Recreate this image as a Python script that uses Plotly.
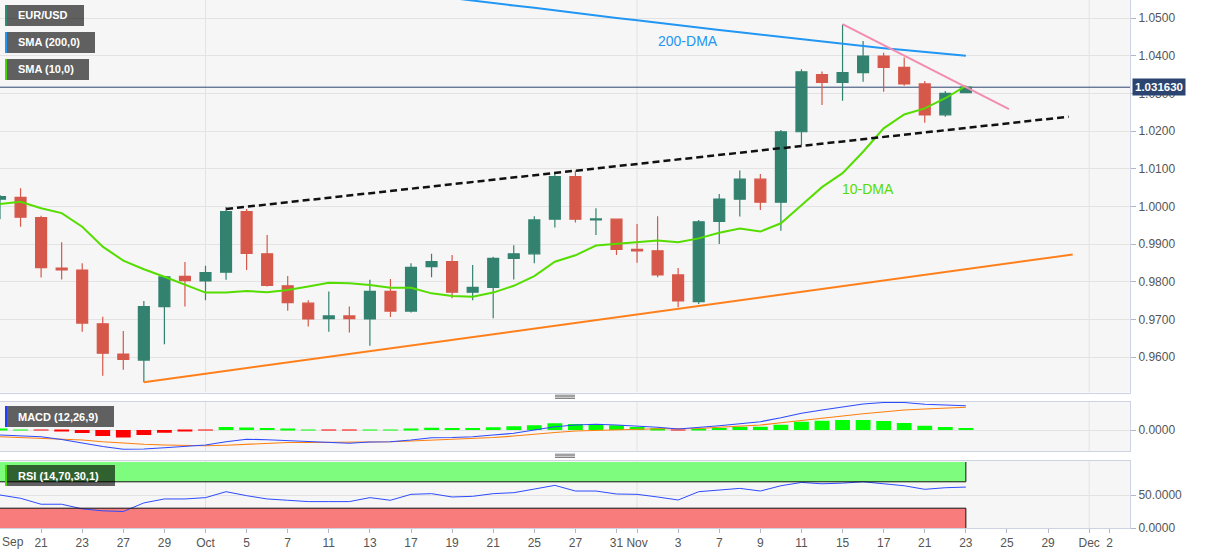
import plotly.graph_objects as go

# ---------------- data ----------------
dates = ["2022-09-19", "2022-09-20", "2022-09-21", "2022-09-22", "2022-09-23",
         "2022-09-26", "2022-09-27", "2022-09-28", "2022-09-29", "2022-09-30",
         "2022-10-03", "2022-10-04", "2022-10-05", "2022-10-06", "2022-10-07",
         "2022-10-10", "2022-10-11", "2022-10-12", "2022-10-13", "2022-10-14",
         "2022-10-17", "2022-10-18", "2022-10-19", "2022-10-20", "2022-10-21",
         "2022-10-24", "2022-10-25", "2022-10-26", "2022-10-27", "2022-10-28",
         "2022-10-31", "2022-11-01", "2022-11-02", "2022-11-03", "2022-11-04",
         "2022-11-07", "2022-11-08", "2022-11-09", "2022-11-10", "2022-11-11",
         "2022-11-14", "2022-11-15", "2022-11-16", "2022-11-17", "2022-11-18",
         "2022-11-21", "2022-11-22", "2022-11-23"]

opens = [1.0019, 1.0024, 0.9970, 0.9836, 0.9831, 0.9688, 0.9608, 0.9592, 0.9734, 0.9814,
         0.9802, 0.9825, 0.9986, 0.9874, 0.9789, 0.9743, 0.9702, 0.9709, 0.9701, 0.9774,
         0.9722, 0.9840, 0.9853, 0.9772, 0.9785, 0.9862, 0.9874, 0.9966, 1.0079, 0.9964,
         0.9966, 0.9886, 0.9882, 0.9818, 0.9747, 0.9960, 1.0019, 1.0072, 1.0011, 1.0198,
         1.0350, 1.0329, 1.0355, 1.0399, 1.0369, 1.0325, 1.0243, 1.0302]
highs = [1.0030, 1.0048, 0.9975, 0.9905, 0.9849, 0.9707, 0.9669, 0.9749, 0.9815, 0.9852,
         0.9842, 0.9998, 0.9993, 0.9924, 0.9815, 0.9751, 0.9774, 0.9734, 0.9805, 0.9807,
         0.9849, 0.9874, 0.9871, 0.9844, 0.9866, 0.9897, 0.9974, 1.0089, 1.0095, 0.9995,
         0.9966, 0.9953, 0.9974, 0.9836, 0.9964, 1.0033, 1.0095, 1.0086, 1.0203, 1.0364,
         1.0358, 1.0483, 1.0439, 1.0408, 1.0395, 1.0333, 1.0306, 1.0320]
lows = [0.9966, 0.9946, 0.9811, 0.9806, 0.9667, 0.9550, 0.9566, 0.9533, 0.9634, 0.9734,
        0.9751, 0.9805, 0.9831, 0.9787, 0.9723, 0.9681, 0.9667, 0.9665, 0.9630, 0.9706,
        0.9718, 0.9812, 0.9756, 0.9751, 0.9703, 0.9806, 0.9849, 0.9944, 0.9957, 0.9924,
        0.9871, 0.9850, 0.9812, 0.9732, 0.9741, 0.9900, 0.9973, 0.9990, 0.9935, 1.0163,
        1.0269, 1.0280, 1.0331, 1.0304, 1.0320, 1.0222, 1.0238, 1.0300]
closes = [1.0026, 0.9971, 0.9837, 0.9831, 0.9690, 0.9610, 0.9594, 0.9734, 0.9813, 0.9803,
          0.9824, 0.9986, 0.9875, 0.9790, 0.9744, 0.9701, 0.9709, 0.9702, 0.9774, 0.9722,
          0.9838, 0.9853, 0.9772, 0.9785, 0.9862, 0.9874, 0.9964, 1.0079, 0.9966, 0.99665,
          0.9886, 0.9882, 0.9818, 0.9749, 0.9959, 1.0019, 1.0072, 1.0011, 1.0198, 1.0357,
          1.0329, 1.0355, 1.0399, 1.0369, 1.0325, 1.0243, 1.0300, 1.03163]

sma10 = [1.0006, 1.0012, 0.9995, 0.9982, 0.9946, 0.9893, 0.9856, 0.9833, 0.9813, 0.9791,
         0.9771, 0.9771, 0.9775, 0.9772, 0.9778, 0.9787, 0.9797, 0.9796, 0.9791, 0.9784,
         0.9784, 0.9769, 0.9762, 0.9760, 0.9771, 0.9789, 0.9815, 0.9853, 0.9870, 0.9896,
         0.9900, 0.9905, 0.9909, 0.9905, 0.9915, 0.9930, 0.9941, 0.9933, 0.9955, 1.0003,
         1.0051, 1.0088, 1.0145, 1.0207, 1.0244, 1.0260, 1.0287, 1.0320]

# 200-day SMA: only visible from late October (earlier values are above the chart)
sma200 = [None] * 22 + [1.0553, 1.0546, 1.0540, 1.0533, 1.0527, 1.0520, 1.0514, 1.0507,
                        1.0500, 1.0494, 1.0487, 1.0481, 1.0475, 1.0468, 1.0462, 1.0456,
                        1.0449, 1.0443, 1.0437, 1.0431, 1.0426, 1.0420, 1.0415, 1.0410,
                        1.0405, 1.0400]

macd_line = [-0.0020, -0.0023, -0.0027, -0.0038, -0.0053, -0.0066, -0.0077, -0.0076, -0.0071, -0.0066,
             -0.0060, -0.0047, -0.0037, -0.0039, -0.0043, -0.0046, -0.0049, -0.0053, -0.0048, -0.0047,
             -0.0040, -0.0031, -0.0030, -0.0027, -0.0020, -0.0013, 0.0000, 0.0013, 0.0020, 0.0023,
             0.0020, 0.0017, 0.0011, 0.0004, 0.0009, 0.0017, 0.0025, 0.0033, 0.0049, 0.0067,
             0.0080, 0.0093, 0.0104, 0.0110, 0.0110, 0.0103, 0.0100, 0.0097]
macd_signal = [-0.0027, -0.0030, -0.0034, -0.0037, -0.0040, -0.0047, -0.0053, -0.0057, -0.0060, -0.0062,
               -0.0063, -0.0061, -0.0057, -0.0054, -0.0050, -0.0050, -0.0050, -0.0050, -0.0049, -0.0047,
               -0.0044, -0.0041, -0.0037, -0.0034, -0.0030, -0.0024, -0.0016, -0.0010, -0.0004, -0.0001,
               0.0002, 0.0005, 0.0005, 0.0005, 0.0006, 0.0011, 0.0015, 0.0020, 0.0029, 0.0037,
               0.0047, 0.0056, 0.0065, 0.0073, 0.0080, 0.0084, 0.0088, 0.0091]
macd_hist = [0.0004, 0.0002, -0.0001, -0.0005, -0.0012, -0.0024, -0.0030, -0.0020, -0.0011, -0.0004,
             -0.0001, 0.0012, 0.0010, 0.0008, 0.0005, 0.0002, -0.0001, -0.0001, 0.0001, 0.0002,
             0.0005, 0.0009, 0.0008, 0.0008, 0.0011, 0.0015, 0.0019, 0.0027, 0.0024, 0.0024,
             0.0019, 0.0012, 0.0007, -0.0002, 0.0004, 0.0008, 0.0013, 0.0013, 0.0021, 0.0033,
             0.0037, 0.0040, 0.0040, 0.0036, 0.0028, 0.0017, 0.0012, 0.0008]

rsi = [50, 45, 36, 36, 29, 26, 25, 38, 44, 44,
       46, 55, 49, 44, 42, 40, 40, 40, 46, 42,
       51, 52, 47, 48, 52, 53.5, 59, 64.6, 56, 56,
       51.5, 51, 47, 42.4, 55, 58, 60, 56, 64, 69,
       67, 68, 70, 67, 64, 58.6, 61, 62]

# x-axis labels: trading-day index -> label
tick_idx = [2, 4, 6, 8, 10, 12, 14, 16, 18, 20, 22, 24, 26, 28, 30, 31, 33, 35, 37, 39,
            41, 43, 45, 47, 49, 51, 53, 54]
tick_text = ["21", "23", "27", "29", "Oct", "5", "7", "11", "13", "17", "19", "21", "25", "27",
             "31", "Nov", "3", "7", "9", "11", "15", "17", "21", "23", "25", "29", "Dec", "2"]
first_label = "Sep"
month_start_idx = [10, 31, 53]

# analyst trend lines (trading-day index, price)
channel_x = [11, 52]
channel_y = [0.9993, 1.0238]
support_x = [7, 52.2]
support_y = [0.9533, 0.9872]
resist_x = [41, 49.1]
resist_y = [1.0484, 1.0258]

rsi_upper = 70
rsi_lower = 30

# ---------------- geometry ----------------
W, H = 1207, 555
ML, MR, MT, MB = 0, 77, 0, 27
PW, PH = W - ML - MR, H - MT - MB


def pxx(x):
    return (x - ML) / PW


def pxy(y):
    return 1 - (y - MT) / PH


FONT = "Arial, 'Liberation Sans', sans-serif"
GRID = "#e3e3e3"
BORDER = "#cdd3e3"
TICKC = "#555555"
x_idx = list(range(len(dates)))
X_RANGE = [0, PW / 20.55]

fig = go.Figure()

# candles
fig.add_trace(go.Candlestick(
    x=x_idx, open=opens, high=highs, low=lows, close=closes,
    increasing=dict(fillcolor="#338270", line=dict(color="#338270", width=1.2)),
    decreasing=dict(fillcolor="#d6584a", line=dict(color="#d6584a", width=1.2)),
    whiskerwidth=0, xaxis="x", yaxis="y", showlegend=False, hoverinfo="skip"))

# moving averages
fig.add_trace(go.Scatter(x=x_idx, y=sma200, mode="lines", line=dict(color="#2196f3", width=2),
                         xaxis="x", yaxis="y", showlegend=False, hoverinfo="skip"))
fig.add_trace(go.Scatter(x=x_idx, y=sma10, mode="lines", line=dict(color="#55dd00", width=2),
                         xaxis="x", yaxis="y", showlegend=False, hoverinfo="skip"))

# trend lines
fig.add_trace(go.Scatter(x=channel_x, y=channel_y, mode="lines",
                         line=dict(color="#111111", width=2.5, dash="7px,4px"),
                         xaxis="x", yaxis="y", showlegend=False, hoverinfo="skip"))
fig.add_trace(go.Scatter(x=support_x, y=support_y, mode="lines",
                         line=dict(color="#ff7f1a", width=2),
                         xaxis="x", yaxis="y", showlegend=False, hoverinfo="skip"))
fig.add_trace(go.Scatter(x=resist_x, y=resist_y, mode="lines",
                         line=dict(color="#f28cb1", width=2),
                         xaxis="x", yaxis="y", showlegend=False, hoverinfo="skip"))

# MACD
fig.add_trace(go.Bar(x=x_idx, y=macd_hist, width=0.72,
                     marker=dict(color=["#00ff00" if v >= 0 else "#ff0000" for v in macd_hist],
                                 line=dict(width=0)),
                     xaxis="x2", yaxis="y2", showlegend=False, hoverinfo="skip"))
fig.add_trace(go.Scatter(x=x_idx, y=macd_signal, mode="lines", line=dict(color="#ff7f0e", width=1.2),
                         xaxis="x2", yaxis="y2", showlegend=False, hoverinfo="skip"))
fig.add_trace(go.Scatter(x=x_idx, y=macd_line, mode="lines", line=dict(color="#2e4bff", width=1.2),
                         xaxis="x2", yaxis="y2", showlegend=False, hoverinfo="skip"))

# RSI
fig.add_trace(go.Scatter(x=x_idx, y=rsi, mode="lines", line=dict(color="#2e4bff", width=1),
                         xaxis="x3", yaxis="y3", showlegend=False, hoverinfo="skip"))

shapes = []
# month separators in every panel
for xr, yr in (("x", "y"), ("x2", "y2"), ("x3", "y3")):
    for m in month_start_idx:
        shapes.append(dict(type="line", xref=xr, yref=yr + " domain", x0=m, x1=m, y0=0, y1=1,
                           line=dict(color=GRID, width=1), layer="below"))

# current price line
last = closes[-1]
shapes.append(dict(type="line", xref="x domain", yref="y", x0=0, x1=1, y0=last, y1=last,
                   line=dict(color="#2b4470", width=1), layer="below"))

# RSI bands
last_i = x_idx[-1]
shapes.append(dict(type="rect", xref="x3", yref="y3", x0=-1, x1=last_i, y0=rsi_upper, y1=100,
                   fillcolor="#7dfc7d", line=dict(width=0), layer="below"))
shapes.append(dict(type="rect", xref="x3", yref="y3", x0=-1, x1=last_i, y0=0, y1=rsi_lower,
                   fillcolor="#f87c7c", line=dict(width=0), layer="below"))
for (a, b, c, d) in ((-1, last_i, rsi_upper, rsi_upper), (last_i, last_i, rsi_upper, 100),
                     (-1, last_i, rsi_lower, rsi_lower), (last_i, last_i, 0, rsi_lower)):
    shapes.append(dict(type="line", xref="x3", yref="y3", x0=a, x1=b, y0=c, y1=d,
                       line=dict(color="#111111", width=1)))

# panel resize handles
for yy in (395.2, 454.2):
    for k in range(3):
        shapes.append(dict(type="line", xref="paper", yref="paper", x0=pxx(555), x1=pxx(575),
                           y0=pxy(yy + 1.6 * k), y1=pxy(yy + 1.6 * k),
                           line=dict(color="#777777", width=1)))

annotations = []
# indicator label boxes
boxes = [("EUR/USD", 5, 84, 5, 26, "#2e8b74"),
         ("SMA (200,0)", 5, 95, 32, 53, "#2196f3"),
         ("SMA (10,0)", 5, 89, 59, 80, "#4cd600"),
         ("MACD (12,26,9)", 5, 114, 406, 427, "#1f3fff"),
         ("RSI (14,70,30,1)", 5, 115, 465, 486, "#4cd600")]
for text, x0, x1, y0, y1, sc in boxes:
    shapes.append(dict(type="rect", xref="paper", yref="paper", x0=pxx(x0), x1=pxx(x1),
                       y0=pxy(y1), y1=pxy(y0), fillcolor="rgba(0,0,0,0.61)", line=dict(width=0)))
    shapes.append(dict(type="rect", xref="paper", yref="paper", x0=pxx(x0), x1=pxx(x0 + 2),
                       y0=pxy(y1), y1=pxy(y0), fillcolor=sc, line=dict(width=0)))
    annotations.append(dict(text="<b>" + text + "</b>", xref="paper", yref="paper",
                            x=pxx(16), y=pxy((y0 + y1) / 2), xanchor="left", yanchor="middle",
                            showarrow=False, font=dict(family=FONT, size=11, color="white")))

# line labels
annotations.append(dict(text="200-DMA", xref="x", yref="y", x=33.5, y=1.0439, showarrow=False,
                        font=dict(family=FONT, size=14, color="#2196f3")))
annotations.append(dict(text="10-DMA", xref="x", yref="y", x=42.25, y=1.0046, showarrow=False,
                        font=dict(family=FONT, size=14, color="#55dd00")))

# current price tag
annotations.append(dict(text="<b>%.6f</b>" % last, xref="paper", yref="y", x=pxx(1132), y=last,
                        xanchor="left", yanchor="middle", showarrow=False, bgcolor="#2b4470",
                        borderpad=2, font=dict(family=FONT, size=11.5, color="white")))

# first x label (kept inside the page)
annotations.append(dict(text=first_label, xref="paper", yref="paper", x=0, y=pxy(542),
                        xanchor="left", yanchor="middle", showarrow=False,
                        font=dict(family=FONT, size=12, color=TICKC)))

xcommon = dict(range=X_RANGE, showgrid=False, zeroline=False, showline=True, linecolor=BORDER,
               mirror=True, domain=[0, 1], fixedrange=True)
ycommon = dict(side="right", showline=True, linecolor=BORDER, mirror=True, zeroline=False,
               gridcolor=GRID, ticks="outside", ticklen=5, tickcolor="#b0b7c9",
               tickfont=dict(family=FONT, size=12, color=TICKC), tickformat=".4f")

fig.update_layout(
    width=W, height=H,
    margin=dict(l=ML, r=MR, t=MT, b=MB),
    paper_bgcolor="white", plot_bgcolor="#f6f6f6",
    showlegend=False, boxgap=0.24,
    font=dict(family=FONT),
    xaxis=dict(**xcommon, anchor="y", showticklabels=False, ticks="",
               rangeslider=dict(visible=False)),
    xaxis2=dict(**xcommon, anchor="y2", showticklabels=False, ticks=""),
    xaxis3=dict(**xcommon, anchor="y3", tickmode="array", tickvals=tick_idx, ticktext=tick_text,
                ticks="outside", ticklen=4, tickcolor="#b0b7c9",
                tickfont=dict(family=FONT, size=12, color=TICKC)),
    yaxis=dict(**ycommon, anchor="x", domain=[pxy(392.5), 1], range=[0.95058, 1.05478],
               tick0=0.96, dtick=0.01),
    yaxis2=dict(**ycommon, anchor="x2", domain=[pxy(451), pxy(401.5)], range=[-0.0084, 0.0114],
                tickmode="array", tickvals=[0]),
    yaxis3=dict(**ycommon, anchor="x3", domain=[0, pxy(461)], range=[0, 101.5],
                tickmode="array", tickvals=[0, 50]),
    shapes=shapes, annotations=annotations,
)

fig.write_html("out.html", config={"displayModeBar": False},
               post_script="document.body.style.margin='0';document.body.style.overflow='hidden';")
